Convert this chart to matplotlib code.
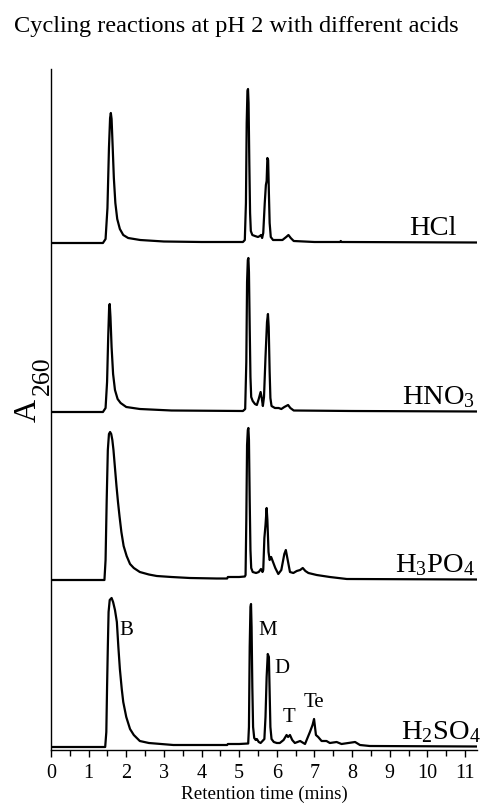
import matplotlib
matplotlib.use("Agg")
import matplotlib.pyplot as plt
from matplotlib.ticker import MultipleLocator

plt.rcParams['font.family'] = ['Liberation Serif', 'DejaVu Serif']
plt.rcParams['mathtext.fontset'] = 'custom'
plt.rcParams['mathtext.rm'] = 'Liberation Serif'
plt.rcParams['mathtext.it'] = 'Liberation Serif:italic'

# ---- data (retention time in min, A260 in arbitrary units above each trace's baseline) ----
acids = ["HCl", "HNO$_3$", "H$_3$PO$_4$", "H$_2$SO$_4$"]
offsets = [505, 336, 168, 1]

hcl_t = [0.0, 1.38, 1.45, 1.50, 1.54, 1.57, 1.59, 1.61, 1.64, 1.67, 1.71, 1.76, 1.83, 1.92, 2.05, 2.37,
         3.0, 4.0, 5.10, 5.15, 5.18, 5.20, 5.22, 5.235, 5.25, 5.27, 5.29, 5.31, 5.35, 5.42, 5.50, 5.55,
         5.58, 5.61, 5.64, 5.68, 5.71, 5.73, 5.75, 5.77, 5.79, 5.81, 5.84, 5.90, 6.0, 6.15, 6.25, 6.31,
         6.37, 6.45, 7.0, 7.68, 7.70, 7.72, 11.32]
hcl_a = [0, 0, 4, 35, 95, 125, 130, 124, 95, 65, 40, 24, 14, 8, 5, 3,
         1.5, 1, 1, 3, 40, 120, 152, 154, 140, 80, 30, 12, 8, 7, 6, 7,
         8, 5, 10, 40, 58, 62, 85, 83, 50, 20, 6, 3, 3, 3, 6, 8,
         5, 2, 1, 1, 2, 1, 0.5]

hno3_t = [0.0, 1.38, 1.45, 1.49, 1.52, 1.545, 1.56, 1.58, 1.61, 1.65, 1.70, 1.77, 1.85, 2.0, 2.36,
          3.2, 5.10, 5.16, 5.19, 5.21, 5.23, 5.245, 5.26, 5.28, 5.30, 5.32, 5.36, 5.42, 5.47, 5.52,
          5.57, 5.60, 5.63, 5.66, 5.70, 5.74, 5.765, 5.785, 5.81, 5.83, 5.86, 5.95, 6.05, 6.12, 6.2,
          6.3, 6.36, 6.45, 8.0, 11.32]
hno3_a = [0, 0, 4, 30, 75, 105, 108, 95, 65, 38, 22, 13, 9, 5, 3,
          1.5, 1, 3, 50, 130, 152, 154, 140, 85, 35, 15, 11, 8, 7, 13,
          20, 14, 6, 15, 55, 90, 98, 85, 40, 14, 6, 4, 4, 3, 5,
          7, 4, 1.5, 1, 0.5]

h3po4_t = [0.0, 1.42, 1.45, 1.48, 1.51, 1.54, 1.57, 1.60, 1.63, 1.66, 1.70, 1.74, 1.78, 1.82, 1.87,
           1.93, 2.01, 2.1, 2.2, 2.36, 2.6, 2.81, 3.2, 3.69, 4.4, 4.68, 4.70, 5.0, 5.15, 5.17, 5.19,
           5.21, 5.23, 5.245, 5.26, 5.28, 5.30, 5.32, 5.36, 5.45, 5.52, 5.58, 5.62, 5.64, 5.67, 5.70,
           5.73, 5.75, 5.78, 5.81, 5.85, 5.90, 5.96, 6.04, 6.12, 6.20, 6.24, 6.28, 6.35, 6.44, 6.53,
           6.62, 6.69, 6.76, 6.84, 7.06, 7.41, 7.86, 11.32]
h3po4_a = [0, 0, 20, 80, 130, 146, 148, 146, 140, 130, 112, 94, 78, 64, 48,
           34, 24, 16, 12, 8, 5.5, 4, 3, 2, 1.5, 1.5, 3, 3, 3.5, 5, 60,
           135, 150, 152, 140, 80, 30, 12, 8, 7, 8, 11, 8, 10, 42, 55,
           72, 60, 28, 20, 23, 18, 12, 6, 10, 26, 30, 22, 8, 7, 9,
           10, 12, 9, 7, 5, 3, 1, 0.5]

h2so4_t = [0.0, 1.44, 1.47, 1.49, 1.51, 1.53, 1.56, 1.61, 1.65, 1.70, 1.75, 1.79, 1.83, 1.88, 1.92,
           2.0, 2.10, 2.2, 2.36, 2.6, 3.25, 4.68, 4.70, 5.0, 5.24, 5.26, 5.28, 5.30, 5.315, 5.33,
           5.35, 5.37, 5.40, 5.44, 5.47, 5.52, 5.57, 5.62, 5.67, 5.70, 5.73, 5.76, 5.79, 5.81, 5.83,
           5.86, 5.92, 6.0, 6.08, 6.18, 6.26, 6.30, 6.35, 6.41, 6.48, 6.62, 6.75, 6.88, 6.95, 6.99,
           7.04, 7.10, 7.19, 7.32, 7.41, 7.59, 7.72, 7.90, 8.08, 8.21, 8.47, 11.32]
h2so4_a = [0, 0, 15, 60, 100, 135, 147, 149, 145, 137, 125, 100, 78, 58, 45,
           30, 18, 12, 6, 4, 2, 2, 3, 3, 3.5, 20, 100, 140, 143, 120,
           60, 20, 9, 7, 8, 5, 4, 6, 8, 30, 70, 93, 90, 55, 20,
           8, 5, 4, 4, 7, 12, 10, 12, 7, 4, 6, 3, 15, 22, 28,
           12, 10, 6, 6, 4, 5, 3, 4, 5, 2, 1, 0.5]

traces_t = [hcl_t, hno3_t, h3po4_t, h2so4_t]
traces_a = [hcl_a, hno3_a, h3po4_a, h2so4_a]

peak_names = ["B", "M", "D", "T", "Te"]
peak_label_t = [1.81, 5.51, 5.93, 6.15, 6.72]
peak_label_a = [112, 112, 74, 25, 40]

xticks = list(range(0, 12))

# ---- figure ----
fig = plt.figure(figsize=(4.83, 8.09), dpi=100)
ax = fig.add_axes([51/483, 59/809, 426/483, 681/809])

for t, a, off in zip(traces_t, traces_a, offsets):
    ax.plot(t, [v + off for v in a], color='black', lw=1.6, solid_joinstyle='round')

label_x = [10.78, 11.28, 11.25, 11.42]
for name, off, lx in zip(acids, offsets, label_x):
    ax.text(lx, off + 8, name, ha='right', va='baseline', fontsize=20.5, clip_on=False)

for nm, pt, pa in zip(peak_names, peak_label_t, peak_label_a):
    ax.text(pt, pa + offsets[3], nm, ha='left', va='baseline', fontsize=15)

ax.set_xlim(0, 11.32)
ax.set_ylim(-2, 679)
ax.set_xticks(xticks)
ax.xaxis.set_minor_locator(MultipleLocator(0.5))
ax.tick_params(axis='x', which='major', direction='out', length=5, width=1, pad=5, labelsize=14.5)
ax.tick_params(axis='x', which='minor', direction='out', length=4, width=1)
ax.set_yticks([])
for s in ['top', 'right']:
    ax.spines[s].set_visible(False)
for s in ['left', 'bottom']:
    ax.spines[s].set_linewidth(1.0)

ax.set_xlabel("Retention time (mins)", fontsize=13.7, labelpad=2)

# y label A260 drawn as two pieces (large subscript)
fig.text(36/483, 1 - 422/809, "A", rotation=90, rotation_mode='anchor', ha='left', va='baseline', fontsize=23)
fig.text(49/483, 1 - 395/809, "260", rotation=90, rotation_mode='anchor', ha='left', va='baseline', fontsize=18.5)

fig.text(236/483, 1 - 31.7/809, "Cycling reactions at pH 2 with different acids", ha='center', va='baseline', fontsize=17.6)

fig.savefig("out.png", dpi=100)
